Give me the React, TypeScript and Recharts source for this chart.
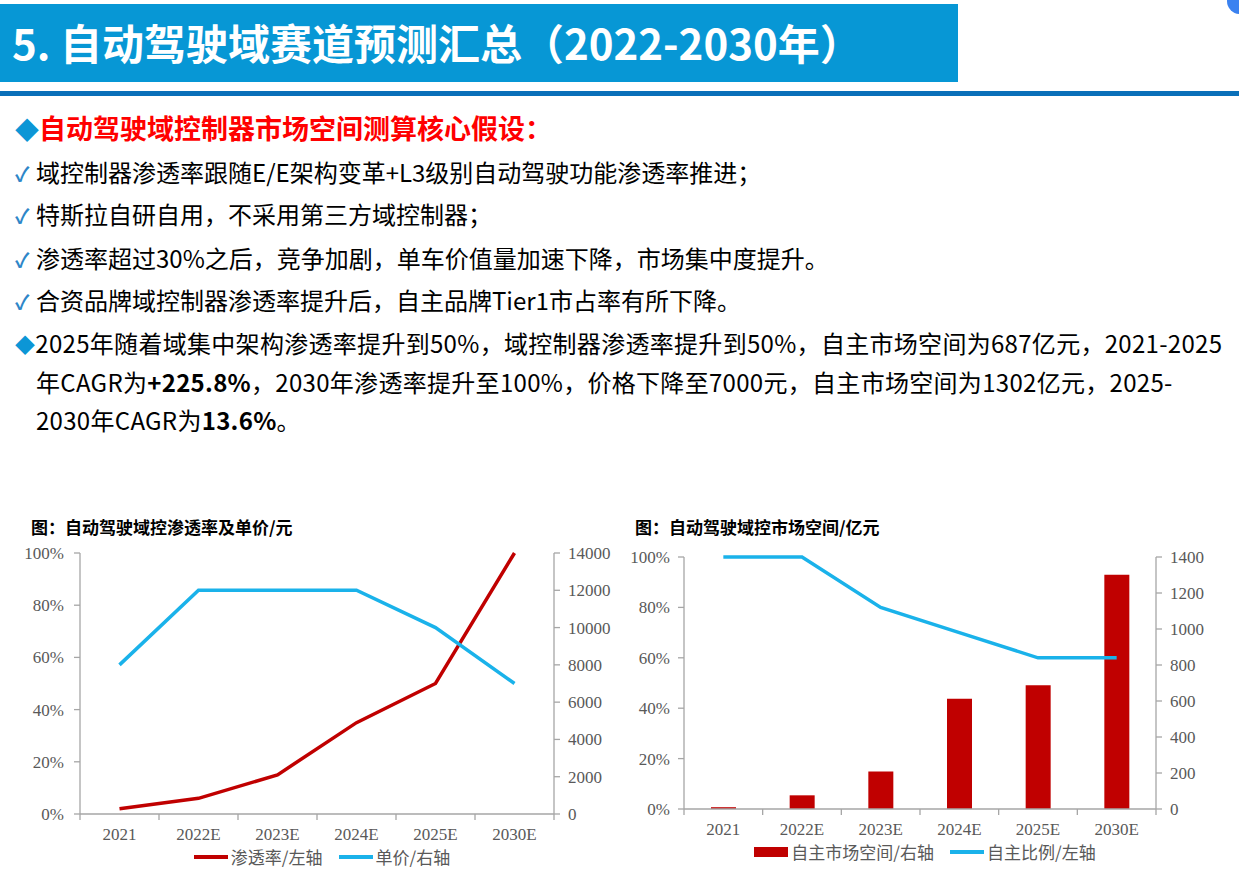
import React from 'react';
import {
  ComposedChart,
  Line,
  Bar,
  XAxis,
  YAxis,
  Legend,
} from 'recharts';

// categories and series
const years = ['2021', '2022E', '2023E', '2024E', '2025E', '2030E'];
const penetration = [0.02, 0.06, 0.15, 0.35, 0.5, 1.0];
const unitPrice = [8000, 12000, 12000, 12000, 10000, 7000];
const marketSpace = [10, 76, 208, 613, 687, 1302];
const domesticShare = [1.0, 1.0, 0.8, 0.7, 0.6, 0.6];

const pctTicks = [0, 0.2, 0.4, 0.6, 0.8, 1.0];
const priceTicks = [0, 2000, 4000, 6000, 8000, 10000, 12000, 14000];
const spaceTicks = [0, 200, 400, 600, 800, 1000, 1200, 1400];

const checkItems = [
  '域控制器渗透率跟随E/E架构变革+L3级别自动驾驶功能渗透率推进；',
  '特斯拉自研自用，不采用第三方域控制器；',
  '渗透率超过30%之后，竞争加剧，单车价值量加速下降，市场集中度提升。',
  '合资品牌域控制器渗透率提升后，自主品牌Tier1市占率有所下降。',
];

const RED = '#c00000';
const BLUE = '#1ab2ea';
const AXIS = '#a6a6a6';
const TICK_TEXT = '#595959';
const SERIF = '"Liberation Serif", "Times New Roman", serif';
const SANS = '"Noto Sans CJK SC", "Noto Sans", sans-serif';

const penetrationData = years.map((year, i) => ({
  year,
  penetration: penetration[i],
  price: unitPrice[i],
}));

const marketData = years.map((year, i) => ({
  year,
  space: marketSpace[i],
  share: domesticShare[i],
}));

const pctFormat = (v: number) => `${Math.round(v * 100)}%`;

// excel style x ticks: marks sit between categories, label at band centre
function XTick({ x, y, payload, index, band, count }: any) {
  const marks = [x - band / 2];
  if (index === count - 1) marks.push(x + band / 2);
  return (
    <g>
      {marks.map((mx, i) => (
        <line key={i} x1={mx} x2={mx} y1={y} y2={y + 6} stroke={AXIS} strokeWidth={1.3} />
      ))}
      <text
        x={x}
        y={y + 26}
        textAnchor="middle"
        fill={TICK_TEXT}
        fontFamily={SERIF}
        fontSize={17}
      >
        {payload.value}
      </text>
    </g>
  );
}

// legend keeps the series order given in `order` (recharts sorts by name otherwise)
function LegendRow({ payload, shift, order }: any) {
  const items = [...(payload || [])].sort(
    (a: any, b: any) => order.indexOf(a.value) - order.indexOf(b.value)
  );
  return (
    <div
      style={{
        display: 'flex',
        justifyContent: 'center',
        alignItems: 'center',
        gap: 16,
        paddingLeft: shift,
        fontFamily: SANS,
        fontSize: 17,
        color: TICK_TEXT,
      }}
    >
      {items.map((entry: any) => (
        <div key={entry.value} style={{ display: 'flex', alignItems: 'center' }}>
          {entry.type === 'rect' ? (
            <span style={{ width: 34, height: 10, background: entry.color, marginRight: 3 }} />
          ) : (
            <span style={{ width: 34, height: 4, background: entry.color, marginRight: 3 }} />
          )}
          <span>{entry.value}</span>
        </div>
      ))}
    </div>
  );
}

function PenetrationChart() {
  const band = 474 / years.length;
  return (
    <ComposedChart
      width={620}
      height={332}
      data={penetrationData}
      margin={{ top: 13, right: 0, left: 0, bottom: 0 }}
    >
      <XAxis
        dataKey="year"
        scale="band"
        height={30}
        tickSize={0}
        tickMargin={0}
        axisLine={{ stroke: AXIS, strokeWidth: 1.3 }}
        tick={(p: any) => <XTick {...p} band={band} count={years.length} />}
        interval={0}
      />
      <YAxis
        yAxisId="left"
        width={80}
        domain={[0, 1]}
        ticks={pctTicks}
        tickFormatter={pctFormat}
        axisLine={{ stroke: AXIS, strokeWidth: 1.3 }}
        tickLine={{ stroke: AXIS, strokeWidth: 1.3 }}
        tickSize={6}
        tickMargin={10}
        tick={{ fill: TICK_TEXT, fontFamily: SERIF, fontSize: 17 }}
      />
      <YAxis
        yAxisId="right"
        orientation="right"
        width={66}
        domain={[0, 14000]}
        ticks={priceTicks}
        axisLine={{ stroke: AXIS, strokeWidth: 1.3 }}
        tickLine={{ stroke: AXIS, strokeWidth: 1.3 }}
        tickSize={6}
        tickMargin={8}
        tick={{ fill: TICK_TEXT, fontFamily: SERIF, fontSize: 17, textAnchor: 'start' }}
      />
      <Legend
        verticalAlign="bottom"
        height={28}
        content={(p: any) => (
          <LegendRow {...p} shift={24} order={['渗透率/左轴', '单价/右轴']} />
        )}
      />
      <Line
        yAxisId="left"
        dataKey="penetration"
        name="渗透率/左轴"
        stroke={RED}
        strokeWidth={3.5}
        dot={false}
        isAnimationActive={false}
      />
      <Line
        yAxisId="right"
        dataKey="price"
        name="单价/右轴"
        stroke={BLUE}
        strokeWidth={3.5}
        dot={false}
        isAnimationActive={false}
      />
    </ComposedChart>
  );
}

function MarketChart() {
  const band = 472 / years.length;
  return (
    <ComposedChart
      width={596}
      height={327}
      data={marketData}
      margin={{ top: 17, right: 0, left: 0, bottom: 0 }}
    >
      <XAxis
        dataKey="year"
        scale="band"
        height={30}
        tickSize={0}
        tickMargin={0}
        axisLine={{ stroke: AXIS, strokeWidth: 1.3 }}
        tick={(p: any) => <XTick {...p} band={band} count={years.length} />}
        interval={0}
      />
      <YAxis
        yAxisId="left"
        width={64}
        domain={[0, 1]}
        ticks={pctTicks}
        tickFormatter={pctFormat}
        axisLine={{ stroke: AXIS, strokeWidth: 1.3 }}
        tickLine={{ stroke: AXIS, strokeWidth: 1.3 }}
        tickSize={6}
        tickMargin={8}
        tick={{ fill: TICK_TEXT, fontFamily: SERIF, fontSize: 17 }}
      />
      <YAxis
        yAxisId="right"
        orientation="right"
        width={60}
        domain={[0, 1400]}
        ticks={spaceTicks}
        axisLine={{ stroke: AXIS, strokeWidth: 1.3 }}
        tickLine={{ stroke: AXIS, strokeWidth: 1.3 }}
        tickSize={6}
        tickMargin={8}
        tick={{ fill: TICK_TEXT, fontFamily: SERIF, fontSize: 17, textAnchor: 'start' }}
      />
      <Legend
        verticalAlign="bottom"
        height={28}
        content={(p: any) => (
          <LegendRow {...p} shift={14} order={['自主市场空间/右轴', '自主比例/左轴']} />
        )}
      />
      <Bar
        yAxisId="right"
        dataKey="space"
        name="自主市场空间/右轴"
        fill={RED}
        barSize={25}
        legendType="rect"
        isAnimationActive={false}
      />
      <Line
        yAxisId="left"
        dataKey="share"
        name="自主比例/左轴"
        stroke={BLUE}
        strokeWidth={3.5}
        dot={false}
        isAnimationActive={false}
      />
    </ComposedChart>
  );
}

const lineStyle = (top: number, size: number): React.CSSProperties => ({
  position: 'absolute',
  left: 15,
  top,
  fontSize: size,
  lineHeight: '34px',
  height: 34,
  whiteSpace: 'nowrap',
  color: '#000',
});

export default function App() {
  return (
    <div
      style={{
        position: 'absolute',
        left: 0,
        top: 0,
        width: 1239,
        height: 875,
        overflow: 'hidden',
        background: '#fff',
        fontFamily: SANS,
      }}
    >
      {/* header */}
      <div
        style={{
          position: 'absolute',
          left: 0,
          top: 4,
          width: 958,
          height: 78,
          background: '#0797d5',
        }}
      />
      <div
        style={{
          position: 'absolute',
          left: 12,
          top: 15,
          fontSize: 42,
          lineHeight: '54px',
          fontWeight: 700,
          color: '#fff',
          whiteSpace: 'nowrap',
        }}
      >
        5. 自动驾驶域赛道预测汇总（2022-2030年）
      </div>
      <div
        style={{
          position: 'absolute',
          left: 0,
          top: 91,
          width: 1239,
          height: 5,
          background: '#0a70b9',
        }}
      />
      <div
        style={{
          position: 'absolute',
          left: 1227,
          top: -12,
          width: 26,
          height: 26,
          borderRadius: 13,
          background: '#3b82f0',
        }}
      />

      {/* bullets */}
      <div style={{ ...lineStyle(111, 27), fontWeight: 700, color: '#ff0000' }}>
        <span style={{ color: '#0c96d6', fontSize: 24, marginRight: 0 }}>◆</span>
        自动驾驶域控制器市场空间测算核心假设：
      </div>
      {checkItems.map((item, i) => (
        <div key={item} style={lineStyle([155, 197, 241, 283][i], 24)}>
          <span
            style={{
              color: '#2e86c8',
              fontSize: 20,
              fontWeight: 700,
              display: 'inline-block',
              width: 21,
            }}
          >
            ✓
          </span>
          {item}
        </div>
      ))}
      <div style={{ ...lineStyle(326, 24), letterSpacing: 0.3 }}>
        <span style={{ color: '#0c96d6', fontSize: 20, marginRight: 0 }}>◆</span>
        2025年随着域集中架构渗透率提升到50%，域控制器渗透率提升到50%，自主市场空间为687亿元，2021-2025
      </div>
      <div style={{ ...lineStyle(365, 24), left: 36, letterSpacing: 0.3 }}>
        年CAGR为<b>+225.8%</b>，2030年渗透率提升至100%，价格下降至7000元，自主市场空间为1302亿元，2025-
      </div>
      <div style={{ ...lineStyle(403, 24), left: 36, letterSpacing: 0.3 }}>
        2030年CAGR为<b>13.6%</b>。
      </div>

      {/* chart titles */}
      <div
        style={{
          position: 'absolute',
          left: 31,
          top: 516,
          fontSize: 17,
          lineHeight: '22px',
          fontWeight: 700,
          whiteSpace: 'nowrap',
        }}
      >
        图：自动驾驶域控渗透率及单价/元
      </div>
      <div
        style={{
          position: 'absolute',
          left: 635,
          top: 516,
          fontSize: 17,
          lineHeight: '22px',
          fontWeight: 700,
          whiteSpace: 'nowrap',
        }}
      >
        图：自动驾驶域控市场空间/亿元
      </div>

      <div style={{ position: 'absolute', left: 0, top: 540 }}>
        <PenetrationChart />
      </div>
      <div style={{ position: 'absolute', left: 620, top: 540 }}>
        <MarketChart />
      </div>
    </div>
  );
}
